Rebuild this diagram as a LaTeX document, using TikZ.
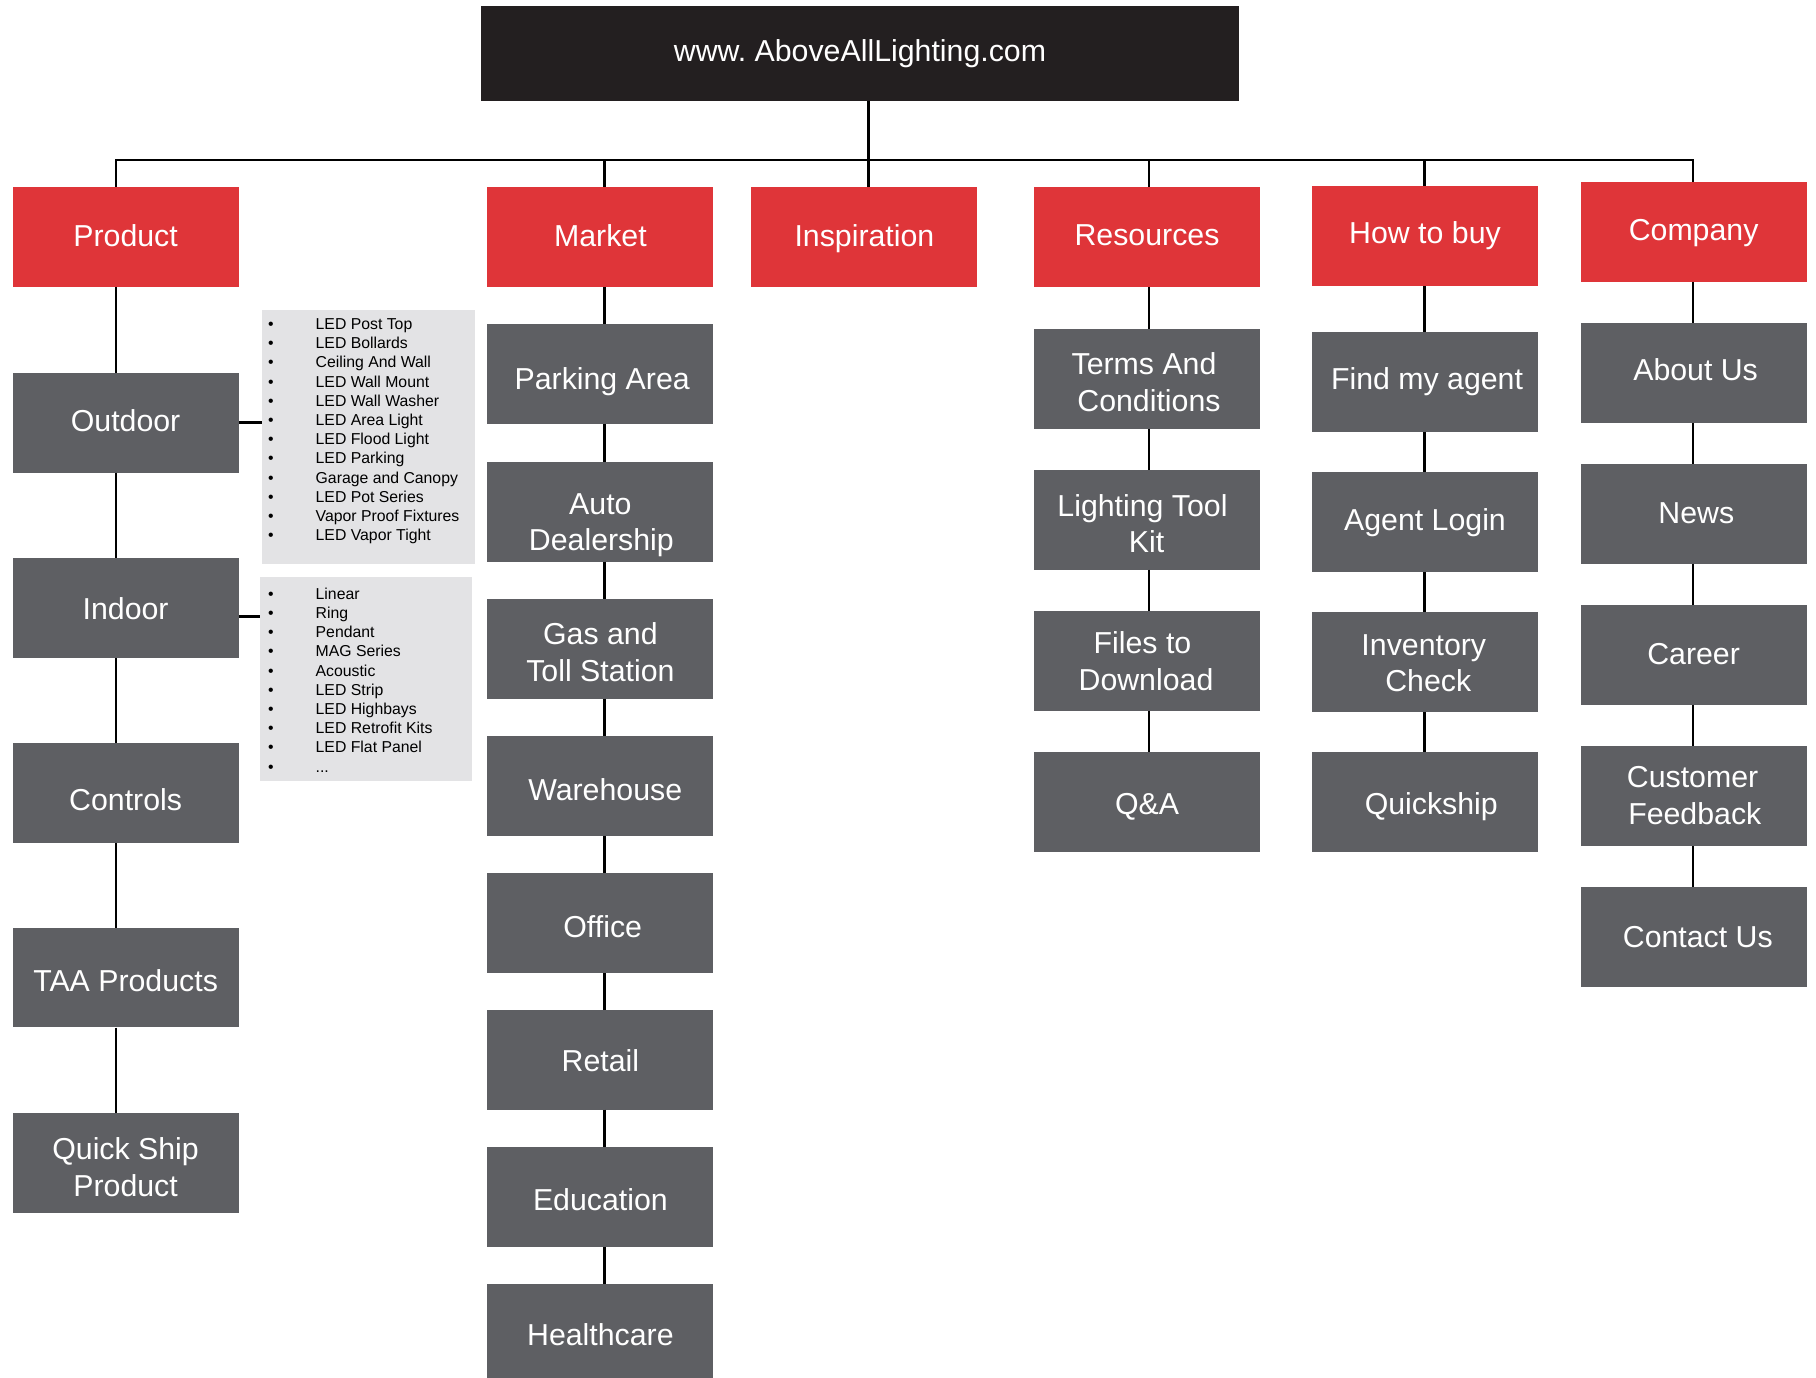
\documentclass[tikz,border=0pt]{standalone}
\usepackage{fontspec}
\setmainfont{Liberation Sans}
\newfontfamily\boxfont{Liberation Sans}
\definecolor{redc}{HTML}{DF3539}
\definecolor{grayc}{HTML}{5E5F63}
\definecolor{topc}{HTML}{231F20}
\definecolor{listc}{HTML}{E3E3E5}
\frenchspacing
\newcommand{\itm}[1]{\makebox[47.5pt][l]{•}#1}
% one text line: x-offset, raise (up positive), text
\newcommand{\tl}[3]{\makebox[0pt]{\hspace*{#1}\hspace*{#1}\raisebox{#2}[0pt][0pt]{#3}}}
\newcommand{\tll}[6]{\tl{#1}{#2}{#3}\tl{#4}{#5}{#6}}
\tikzset{
  basebox/.style={minimum width=226pt, minimum height=99.6pt, inner sep=0pt, text=white,
    font=\boxfont\fontsize{30.3}{37.7}\selectfont},
  catbox/.style={basebox, fill=redc},
  subbox/.style={basebox, fill=grayc},
  topbox/.style={basebox, fill=topc, minimum width=758.5pt, minimum height=95pt},
  listbox/.style={fill=listc, inner sep=0pt, anchor=north west},
  listtext/.style={inner sep=0pt, anchor=north west, align=left, text=black,
    font=\fontsize{15.8}{19.2}\selectfont},
  conn/.style={line width=2.6pt, black},
}
\begin{document}
\begin{tikzpicture}[x=1pt, y=-1pt]
\clip (0,0) rectangle (1816,1377);
\fill[white] (0,0) rectangle (1816,1377);
% line x-positions
\coordinate (vP) at (115.8,0);
\coordinate (vM) at (604.5,0);
\coordinate (vI) at (868.5,0);
\coordinate (vR) at (1149,0);
\coordinate (vH) at (1424.2,0);
\coordinate (vC) at (1693,0);
\coordinate (bus) at (0,160);
% top
\node[topbox] (top) at (860,53.2) {\tl{0pt}{-8.5pt}{www. AboveAllLighting.com}};
% categories
\node[catbox] (product) at (125.6,236.8) {\tl{0pt}{-9.2pt}{Product}};
\node[catbox] (market) at (600.4,236.8) {\tl{0pt}{-9.2pt}{Market}};
\node[catbox] (insp) at (864.4,236.8) {\tl{0pt}{-9.2pt}{Inspiration}};
\node[catbox] (res) at (1147,236.8) {\tl{0pt}{-8.9pt}{Resources}};
\node[catbox] (how) at (1425,235.8) {\tl{0pt}{-7.5pt}{How to buy}};
\node[catbox] (comp) at (1693.6,231.8) {\tl{0pt}{-8.2pt}{Company}};
% product column
\node[subbox] (outdoor) at (125.6,422.7) {\tl{0pt}{-8.3pt}{Outdoor}};
\node[subbox] (indoor) at (125.6,608) {\tl{0pt}{-11pt}{Indoor}};
\node[subbox] (controls) at (125.6,793) {\tl{0pt}{-17.7pt}{Controls}};
\node[subbox] (taa) at (125.6,977.5) {\tl{0pt}{-14.2pt}{TAA Products}};
\node[subbox] (quick) at (125.6,1162.8) {\tll{0pt}{3.5pt}{Quick Ship}{0pt}{-33.2pt}{Product}};
% lists
\node[listbox, minimum width=213pt, minimum height=254pt] (outlist) at (262,310) {};
\node[listtext] (outitems) at (268,315.3) {\rule{0pt}{14pt}\itm{LED Post Top}\\\itm{LED Bollards}\\\itm{Ceiling And Wall}\\\itm{LED Wall Mount}\\\itm{LED Wall Washer}\\\itm{LED Area Light}\\\itm{LED Flood Light}\\\itm{LED Parking}\\\itm{Garage and Canopy}\\\itm{LED Pot Series}\\\itm{Vapor Proof Fixtures}\\\itm{LED Vapor Tight}};
\node[listbox, minimum width=211.7pt, minimum height=204pt] (inlist) at (260,576.7) {};
\node[listtext] (initems) at (268,585) {\rule{0pt}{14pt}\itm{Linear}\\\itm{Ring}\\\itm{Pendant}\\\itm{MAG Series}\\\itm{Acoustic}\\\itm{LED Strip}\\\itm{LED Highbays}\\\itm{LED Retrofit Kits}\\\itm{LED Flat Panel}\\\itm{...}};
% market column
\node[subbox] (parking) at (600.4,373.7) {\tl{1.8pt}{-15.3pt}{Parking Area}};
\node[subbox] (auto) at (600.4,511.7) {\tll{0pt}{-2.6pt}{Auto}{1pt}{-39pt}{Dealership}};
\node[subbox] (gas) at (600.4,648.7) {\tll{0pt}{4.7pt}{Gas and}{0pt}{-33pt}{Toll Station}};
\node[subbox] (ware) at (600.4,785.8) {\tl{4.8pt}{-14.2pt}{Warehouse}};
\node[subbox] (office) at (600.4,923) {\tl{2.3pt}{-14.3pt}{Office}};
\node[subbox] (retail) at (600.4,1059.7) {\tl{0pt}{-12pt}{Retail}};
\node[subbox] (edu) at (600.4,1196.8) {\tl{0pt}{-13.2pt}{Education}};
\node[subbox] (health) at (600.4,1333.8) {\tl{0pt}{-11.9pt}{Healthcare}};
% resources column
\node[subbox] (terms) at (1147,378.8) {\tll{-3pt}{4.8pt}{Terms And}{2pt}{-32.9pt}{Conditions}};
\node[subbox] (tool) at (1147,519.7) {\tll{-4.5pt}{3.7pt}{Lighting Tool}{-0.5pt}{-33pt}{Kit}};
\node[subbox] (files) at (1147,660.8) {\tll{-4.5pt}{7.5pt}{Files to}{-1pt}{-29.2pt}{Download}};
\node[subbox] (qa) at (1147,802) {\tl{0pt}{-12pt}{Q\&A}};
% how to buy column
\node[subbox] (agent) at (1425,381.8) {\tl{2pt}{-7.5pt}{Find my agent}};
\node[subbox] (login) at (1425,522) {\tl{0pt}{-8pt}{Agent Login}};
\node[subbox] (inv) at (1425,662) {\tll{-1.2pt}{7pt}{Inventory}{3.3pt}{-29.7pt}{Check}};
\node[subbox] (qship) at (1425,802) {\tl{6.3pt}{-12pt}{Quickship}};
% company column
\node[subbox] (about) at (1693.6,372.8) {\tl{2pt}{-7.2pt}{About Us}};
\node[subbox] (news) at (1693.6,513.7) {\tl{2.7pt}{-10pt}{News}};
\node[subbox] (career) at (1693.6,654.7) {\tl{0pt}{-10pt}{Career}};
\node[subbox] (feedback) at (1693.6,796) {\tll{-1pt}{8.6pt}{Customer}{1.2pt}{-28.6pt}{Feedback}};
\node[subbox] (contact) at (1693.6,937) {\tl{4.2pt}{-10.4pt}{Contact Us}};
% connectors: top and bus
\draw[conn] (top.south -| vI) -- (insp.north -| vI);
\draw[conn] (product.north -| vP) -- (vP |- bus) -- (vC |- bus) -- (comp.north -| vC);
\draw[conn] (vM |- bus) -- (market.north -| vM);
\draw[conn] (vR |- bus) -- (res.north -| vR);
\draw[conn] (vH |- bus) -- (how.north -| vH);
% product column
\draw[conn] (product.south -| vP) -- (outdoor.north -| vP);
\draw[conn] (outdoor.south -| vP) -- (indoor.north -| vP);
\draw[conn] (indoor.south -| vP) -- (controls.north -| vP);
\draw[conn] (controls.south -| vP) -- (taa.north -| vP);
\draw[conn] (taa.south -| vP) -- (quick.north -| vP);
\draw[conn] (outdoor.east) -- (outdoor.east -| outlist.west);
\draw[conn] ([yshift=-8.5pt]indoor.east) -- ([yshift=-8.5pt]indoor.east -| inlist.west);
% market column
\draw[conn] (market.south -| vM) -- (parking.north -| vM);
\draw[conn] (parking.south -| vM) -- (auto.north -| vM);
\draw[conn] (auto.south -| vM) -- (gas.north -| vM);
\draw[conn] (gas.south -| vM) -- (ware.north -| vM);
\draw[conn] (ware.south -| vM) -- (office.north -| vM);
\draw[conn] (office.south -| vM) -- (retail.north -| vM);
\draw[conn] (retail.south -| vM) -- (edu.north -| vM);
\draw[conn] (edu.south -| vM) -- (health.north -| vM);
% resources column
\draw[conn] (res.south -| vR) -- (terms.north -| vR);
\draw[conn] (terms.south -| vR) -- (tool.north -| vR);
\draw[conn] (tool.south -| vR) -- (files.north -| vR);
\draw[conn] (files.south -| vR) -- (qa.north -| vR);
% how column
\draw[conn] (how.south -| vH) -- (agent.north -| vH);
\draw[conn] (agent.south -| vH) -- (login.north -| vH);
\draw[conn] (login.south -| vH) -- (inv.north -| vH);
\draw[conn] (inv.south -| vH) -- (qship.north -| vH);
% company column
\draw[conn] (comp.south -| vC) -- (about.north -| vC);
\draw[conn] (about.south -| vC) -- (news.north -| vC);
\draw[conn] (news.south -| vC) -- (career.north -| vC);
\draw[conn] (career.south -| vC) -- (feedback.north -| vC);
\draw[conn] (feedback.south -| vC) -- (contact.north -| vC);
\end{tikzpicture}
\end{document}
